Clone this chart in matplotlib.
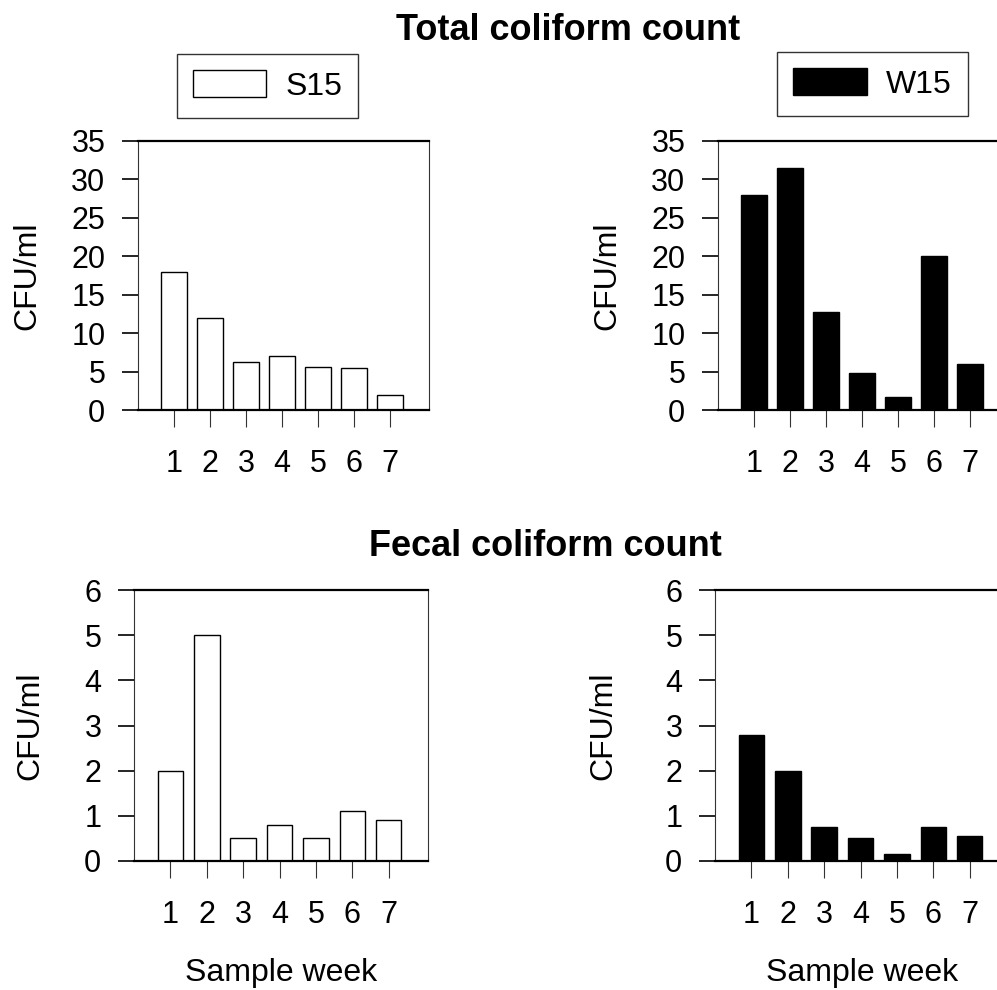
import matplotlib as mpl
import matplotlib.pyplot as plt
from matplotlib.patches import Patch
import numpy as np

# weekly coliform counts, two sampling sites
Weeks = [1, 2, 3, 4, 5, 6, 7]
WeekLabels = ["1", "2", "3", "4", "5", "6", "7"]

TotalS15 = [18, 12, 6.2, 7, 5.6, 5.4, 2]
TotalW15 = [28, 31.5, 12.7, 4.8, 1.7, 20, 6]
FecalS15 = [2, 5, 0.5, 0.8, 0.5, 1.1, 0.9]
FecalW15 = [2.8, 2, 0.75, 0.5, 0.15, 0.75, 0.55]

TotalTicks = [0, 5, 10, 15, 20, 25, 30, 35]
FecalTicks = [0, 1, 2, 3, 4, 5, 6]

mpl.rcParams['font.family'] = ['Liberation Sans', 'DejaVu Sans']

W, H = 997, 990


def figBox(x0, x1, ytop, ybot):
    # pixel box -> figure fraction
    return [x0 / W, 1 - ybot / H, (x1 - x0) / W, (ybot - ytop) / H]


def prepareAxis(ax, PlotConf):
    ax.bar(Weeks, PlotConf["yData"], width=0.7,
           color=PlotConf["Color"], edgecolor="black", linewidth=1.0)

    ax.set_xlim(0, 8.08)
    ax.set_ylim(PlotConf["yTicks"][0], PlotConf["yTicks"][-1])
    ax.set_yticks(PlotConf["yTicks"])
    ax.set_xticks(Weeks)
    ax.set_xticklabels(WeekLabels)

    for side in ["left", "right"]:
        ax.spines[side].set_linewidth(0.8)
        ax.spines[side].set_color("#333333")
    for side in ["top", "bottom"]:
        ax.spines[side].set_linewidth(1.6)
        ax.spines[side].set_color("black")

    ax.tick_params(axis="y", direction="out", length=11.5, width=1.2,
                   pad=12, labelsize=22)
    ax.tick_params(axis="x", direction="out", length=12, width=0.8,
                   color="#333333", pad=16, labelsize=22)

    ax.set_ylabel("CFU/ml", fontsize=23)
    ax.yaxis.set_label_coords(PlotConf["yLabelX"], 0.5)

    if "xLabel" in PlotConf:
        ax.set_xlabel(PlotConf["xLabel"], fontsize=23, labelpad=20)


def addLegend(fig, Label, Color, Center):
    handle = Patch(facecolor=Color, edgecolor="black", linewidth=1.0, label=Label)
    leg = fig.legend(handles=[handle], loc="center", bbox_to_anchor=Center,
                     fontsize=23, frameon=True, fancybox=False,
                     edgecolor="black", handlelength=2.3, handleheight=0.9,
                     borderpad=0.5, handletextpad=0.6, borderaxespad=0)
    leg.get_frame().set_linewidth(1.0)


fig = plt.figure(figsize=(W / 100, H / 100), dpi=100)

axTL = fig.add_axes(figBox(138, 429, 141, 410))
axTR = fig.add_axes(figBox(718, 1009, 141, 410))
axBL = fig.add_axes(figBox(134, 428, 590, 861))
axBR = fig.add_axes(figBox(715, 1009, 590, 861))

prepareAxis(axTL, {"yData": TotalS15, "Color": "white", "yTicks": TotalTicks,
                   "yLabelX": -0.33})
prepareAxis(axTR, {"yData": TotalW15, "Color": "black", "yTicks": TotalTicks,
                   "yLabelX": -0.33})
prepareAxis(axBL, {"yData": FecalS15, "Color": "white", "yTicks": FecalTicks,
                   "yLabelX": -0.30, "xLabel": "Sample week"})
prepareAxis(axBR, {"yData": FecalW15, "Color": "black", "yTicks": FecalTicks,
                   "yLabelX": -0.33, "xLabel": "Sample week"})

fig.text(568 / W, 1 - 31 / H, "Total coliform count", fontsize=26,
         fontweight="bold", ha="center", va="center")
fig.text(545 / W, 1 - 546 / H, "Fecal coliform count", fontsize=26,
         fontweight="bold", ha="center", va="center")

addLegend(fig, "S15", "white", (267.5 / W, 1 - 86 / H))
addLegend(fig, "W15", "black", (872.5 / W, 1 - 84 / H))

fig.savefig("out.png", dpi=100)
plt.close()
